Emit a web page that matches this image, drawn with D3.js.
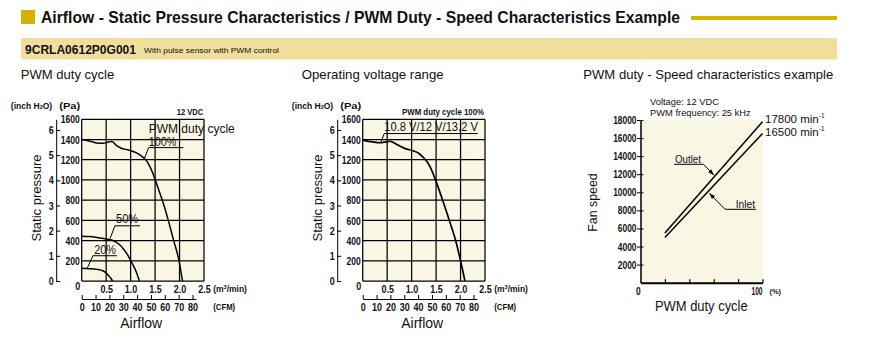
<!DOCTYPE html>
<html><head><meta charset="utf-8">
<script src="https://cdn.jsdelivr.net/npm/d3@7"></script>
<style>
body{margin:0;background:#fff;}
svg{display:block;}
</style></head><body>
<svg id="c" width="885" height="346"></svg>
<script>
// ---------- data ----------
const pressureTicks = [0,200,400,600,800,1000,1200,1400,1600];
const inchTicks = [0,1,2,3,4,5,6];
const flowTicks = [0,0.5,1.0,1.5,2.0,2.5];
const flowLabels = ["0","0.5","1.0","1.5","2.0","2.5"];
const cfmTicks = [0,10,20,30,40,50,60,70,80];
// PWM duty cycle curves [m3/min, Pa]
const pwm100 = [[0,1400],[0.15,1386],[0.3,1366],[0.43,1362],[0.55,1376],[0.62,1380],[0.7,1345],[0.8,1316],[0.95,1296],[1.1,1272],[1.25,1226],[1.35,1172],[1.45,1072],[1.55,936],[1.67,767],[1.77,600],[1.88,400],[1.99,200],[2.06,0]];
const pwm50 = [[0,444],[0.15,440],[0.31,431],[0.45,420],[0.61,405],[0.7,385],[0.78,356],[0.85,320],[0.92,273],[1.0,205],[1.05,158],[1.12,85],[1.18,0]];
const pwm20 = [[0,125],[0.15,122],[0.31,115],[0.44,99],[0.5,80],[0.54,59],[0.6,25],[0.63,0]];
// Operating voltage range curve (10.8 V / 12 V / 13.2 V overlap)
const voltCurve = [[0,1394],[0.2,1376],[0.35,1368],[0.48,1377],[0.56,1383],[0.63,1370],[0.7,1350],[0.87,1310],[1.04,1287],[1.15,1262],[1.24,1222],[1.31,1185],[1.37,1136],[1.49,998],[1.61,833],[1.77,600],[1.9,400],[2.0,200],[2.09,0]];
// Speed chart
const speedTicks = [2000,4000,6000,8000,10000,12000,14000,16000,18000];
const dutyTicks = [20,40,60,80,100];
const duty = [20,100];
const outletSpeed = [5500,17800];
const inletSpeed = [5000,16500];

// ---------- styles ----------
const NARROW = "'Liberation Sans Narrow','Arial Narrow','Liberation Sans',Arial,sans-serif";
const SANS = "'Liberation Sans',Arial,Helvetica,sans-serif";
const GOLD = "#d6b200";
const BAND = "#f0df9b";
const CREAM = "#faf6e4";

const svg = d3.select("#c");

function txt(x, y, s, o={}) {
  const t = svg.append("text")
    .attr("x", x).attr("y", y)
    .attr("dominant-baseline", "central")
    .attr("font-family", o.family || SANS)
    .attr("font-size", o.size || 12)
    .attr("font-weight", o.weight || "normal")
    .attr("fill", o.fill || "#111")
    .attr("text-anchor", o.anchor || "start")
    .text(s);
  if (o.len) t.attr("textLength", o.len).attr("lengthAdjust", "spacingAndGlyphs");
  if (o.rotate) t.attr("transform", `rotate(${o.rotate},${x},${y})`);
  return t;
}
function styleTicks(sel, size, digitW) {
  sel.selectAll("text")
    .attr("font-family", NARROW).attr("font-size", size).attr("font-weight", "bold").attr("fill", "#111")
    .each(function() {
      const s = this.textContent;
      const n = s.replace(/[^0-9]/g, "").length, dots = s.replace(/[0-9]/g, "").length;
      d3.select(this).attr("textLength", n*digitW + dots*digitW*0.5).attr("lengthAdjust", "spacingAndGlyphs");
    });
}

// ---------- header ----------
svg.append("rect").attr("x",21).attr("y",10).attr("width",14).attr("height",14).attr("fill",GOLD);
txt(41, 17, "Airflow - Static Pressure Characteristics / PWM Duty - Speed Characteristics Example",
  {family: NARROW, size: 17, weight: "bold", len: 639});
svg.append("rect").attr("x",691).attr("y",16).attr("width",146).attr("height",4).attr("fill",GOLD);
svg.append("rect").attr("x",21).attr("y",38).attr("width",816).attr("height",21.5).attr("fill",BAND);
txt(25, 50, "9CRLA0612P0G001", {family: NARROW, size: 12.5, weight: "bold", len: 111});
txt(144, 50.5, "With pulse sensor with PWM control", {family: NARROW, size: 7.5, len: 135});

// ---------- pressure charts ----------
const PW = 122.3, PTOP = 119.3, PBOT = 281;
const PA_PER_INCH = 249.09;

function pressureChart(left, title, titleLen) {
  const x = d3.scaleLinear().domain([0,2.5]).range([left, left+PW]);
  const y = d3.scaleLinear().domain([0,1600]).range([PBOT, PTOP]);
  const yi = d3.scaleLinear().domain([0,1600/PA_PER_INCH]).range([PBOT, PTOP]);
  const xc = d3.scaleLinear().domain([0,2.5*35.3147]).range([left, left+PW]);

  txt(left-61, 74, title, {size: 13, len: titleLen});

  const g = svg.append("g");
  g.append("rect").attr("x",left).attr("y",PTOP).attr("width",PW).attr("height",PBOT-PTOP).attr("fill",CREAM);
  g.selectAll(".hg").data(pressureTicks).join("line")
    .attr("x1",left).attr("x2",left+PW).attr("y1",d=>y(d)).attr("y2",d=>y(d))
    .attr("stroke","#000").attr("stroke-width",1.25);
  g.selectAll(".vg").data(flowTicks).join("line")
    .attr("x1",d=>x(d)).attr("x2",d=>x(d)).attr("y1",PTOP).attr("y2",PBOT)
    .attr("stroke","#000").attr("stroke-width",1.25);

  // Pa axis labels (the shared "0" is drawn by the flow axis)
  const pa = svg.append("g").attr("transform",`translate(${left},0)`)
    .call(d3.axisLeft(y).tickValues(pressureTicks.filter(d=>d>0)).tickFormat(d3.format("d")).tickSize(0).tickPadding(2));
  pa.select(".domain").remove();
  styleTicks(pa, 11.5, 4.75);

  // inch H2O axis
  const ia = svg.append("g").attr("transform",`translate(${left-25.5},0)`)
    .call(d3.axisLeft(yi).tickValues(inchTicks).tickFormat(d3.format("d")).tickSizeInner(-4).tickSizeOuter(0).tickPadding(2.5));
  ia.select(".domain").attr("stroke","#000").attr("stroke-width",1);
  ia.selectAll("line").attr("stroke","#000").attr("stroke-width",1);
  styleTicks(ia, 11.5, 5);

  // flow axis labels
  const fa = svg.append("g").attr("transform",`translate(0,${PBOT})`)
    .call(d3.axisBottom(x).tickValues(flowTicks).tickFormat((d,i)=>flowLabels[i]).tickSize(0).tickPadding(3.5));
  fa.select(".domain").remove();
  styleTicks(fa, 11.5, 5);
  fa.selectAll("text").filter(d=>d===0).attr("x",-4.5).attr("dy","0.45em");

  // CFM axis
  const ca = svg.append("g").attr("transform",`translate(0,299)`)
    .call(d3.axisBottom(d3.scaleLinear().domain([0,82.4]).range([left, xc(82.4)]))
      .tickValues(cfmTicks).tickFormat(d3.format("d")).tickSizeInner(-4).tickSizeOuter(0).tickPadding(4));
  ca.select(".domain").attr("stroke","#000").attr("stroke-width",1);
  ca.selectAll("line").attr("stroke","#000").attr("stroke-width",1);
  styleTicks(ca, 11.5, 5);

  // unit labels
  txt(left-1.5, 105.7, "(Pa)", {family: NARROW, size: 8.5, weight: "bold", anchor: "end", len: 21});
  const ih = txt(left-29.5, 105.7, "", {family: NARROW, size: 8.5, weight: "bold", anchor: "end"});
  ih.append("tspan").text("(inch H");
  ih.append("tspan").attr("font-size",5.5).attr("dy",1.5).text("2");
  ih.append("tspan").attr("dy",-1.5).text("O)");
  const mu = txt(left+131.5, 289.3, "", {family: NARROW, size: 8.5, weight: "bold"});
  mu.append("tspan").text("(m");
  mu.append("tspan").attr("font-size",5.5).attr("dy",-2.5).text("3");
  mu.append("tspan").attr("dy",2.5).text("/min)");
  txt(left+131.5, 307.3, "(CFM)", {family: NARROW, size: 8.5, weight: "bold", len: 22});

  txt(left+59.5, 323.3, "Airflow", {size: 14, anchor: "middle", len: 42});
  txt(left-45, 198, "Static pressure", {size: 13.5, anchor: "middle", rotate: -90, len: 87});

  const line = d3.line().x(d=>x(d[0])).y(d=>y(d[1])).curve(d3.curveMonotoneX);
  return {x, y, line};
}

function drawCurve(c, data, w) {
  svg.append("path").attr("d", c.line(data)).attr("fill","none").attr("stroke","#000").attr("stroke-width",w||1.5);
}
function leader(pts, sc) {
  svg.append("path").attr("d", d3.line()(pts.map(p=>[sc.x(p[0]), sc.y(p[1])])))
    .attr("fill","none").attr("stroke","#000").attr("stroke-width",1);
}

// chart 1
const c1 = pressureChart(81.7, "PWM duty cycle", 93.6);
drawCurve(c1, pwm100);
drawCurve(c1, pwm50);
drawCurve(c1, pwm20);
txt(c1.x(0)+95, 112.3, "12 VDC", {family: NARROW, size: 8.5, weight: "bold", len: 26.6});
txt(c1.x(1.37), c1.y(1505), "PWM duty cycle", {size: 12, len: 86});
txt(c1.x(1.37), c1.y(1378), "100%", {size: 12, len: 27.7});
leader([[1.28,1212],[1.37,1320],[2.08,1320]], c1);
txt(c1.x(0.70), c1.y(612), "50%", {size: 12.5, len: 22.3});
leader([[0.58,420],[0.68,546],[1.19,546]], c1);
txt(c1.x(0.257), c1.y(310), "20%", {size: 12.5, len: 21.7});
leader([[0.115,128],[0.23,250],[0.72,250]], c1);

// chart 2
const c2 = pressureChart(362.7, "Operating voltage range", 142);
drawCurve(c2, voltCurve, 1.7);
txt(c2.x(0)+39.3, 112.3, "PWM duty cycle 100%", {family: NARROW, size: 8.5, weight: "bold", len: 82});
txt(c2.x(0.44), c2.y(1526), "10.8 V/12 V/13.2 V", {size: 12.5, len: 93.7});
leader([[0.373,1376],[0.44,1459],[2.35,1459]], c2);

// ---------- speed chart ----------
const x3 = d3.scaleLinear().domain([0,100]).range([640.5,762.5]);
const y3 = d3.scaleLinear().domain([0,18000]).range([282.7,120]);

txt(583.3, 74, "PWM duty - Speed characteristics example", {size: 13, len: 250});
svg.append("rect").attr("x",x3(0)).attr("y",y3(18000)).attr("width",x3(100)-x3(0)).attr("height",y3(0)-y3(18000)).attr("fill",CREAM);

const ya3 = svg.append("g").attr("transform",`translate(${x3(0)},0)`)
  .call(d3.axisLeft(y3).tickValues(speedTicks).tickFormat(d3.format("d")).tickSizeInner(3.5).tickSizeOuter(0).tickPadding(0.5));
ya3.select(".domain").attr("stroke","#000").attr("stroke-width",1.5);
ya3.selectAll("line").attr("stroke","#000").attr("stroke-width",1);
styleTicks(ya3, 11, 4.67);
const ya3r = svg.append("g").attr("transform",`translate(${x3(0)},0)`)
  .call(d3.axisRight(y3).tickValues(speedTicks).tickSizeInner(3).tickSizeOuter(0).tickFormat(""));
ya3r.select(".domain").remove();
ya3r.selectAll("line").attr("stroke","#000").attr("stroke-width",1);

const xa3 = svg.append("g").attr("transform",`translate(0,${y3(0)})`)
  .call(d3.axisBottom(x3).tickValues(dutyTicks).tickSizeInner(-3.5).tickSizeOuter(0).tickFormat(""));
xa3.select(".domain").attr("stroke","#000").attr("stroke-width",2);
xa3.selectAll("line").attr("stroke","#000").attr("stroke-width",1.2);

txt(x3(0)-4.5, 291, "0", {family: NARROW, size: 11, weight: "bold", len: 4.7});
txt(x3(100)-11, 291, "100", {family: NARROW, size: 11, weight: "bold", len: 11});
txt(x3(100)+7, 291.5, "(%)", {family: NARROW, size: 7.5, weight: "bold", len: 11.5});
txt(701.3, 306, "PWM duty cycle", {size: 14, anchor: "middle", len: 92.7});
txt(592.7, 202.5, "Fan speed", {size: 13.5, anchor: "middle", rotate: -90, len: 58.4});

txt(650, 101.3, "Voltage: 12 VDC", {size: 9.5, len: 69});
txt(650, 112.7, "PWM frequency: 25 kHz", {size: 9.5, len: 100.7});

const sline = d3.line().x(d=>x3(d[0])).y(d=>y3(d[1]));
svg.append("path").attr("d", sline(duty.map((d,i)=>[d,outletSpeed[i]]))).attr("fill","none").attr("stroke","#000").attr("stroke-width",1.5);
svg.append("path").attr("d", sline(duty.map((d,i)=>[d,inletSpeed[i]]))).attr("fill","none").attr("stroke","#000").attr("stroke-width",1.5);

function minLabel(y, v) {
  const t = txt(x3(100)+2.5, y, "", {family: NARROW, size: 11.5});
  t.append("tspan").text(v + " min");
  t.append("tspan").attr("font-size",6.5).attr("dy",-3.5).text("-1");
}
minLabel(y3(outletSpeed[1])-3, outletSpeed[1]);
minLabel(y3(inletSpeed[1])-2, inletSpeed[1]);

svg.append("defs").append("marker").attr("id","arr").attr("viewBox","0 0 10 10")
  .attr("refX",10).attr("refY",5).attr("markerWidth",6).attr("markerHeight",6).attr("orient","auto")
  .append("path").attr("d","M0,1.5 L10,5 L0,8.5 Z").attr("fill","#000");

txt(675, 159, "Outlet", {family: NARROW, size: 10.5, len: 26});
svg.append("path").attr("d", d3.line()([[x3(27.5),y3(13099)],[x3(51.6),y3(13099)],[x3(60.2),y3(11900)]]))
  .attr("fill","none").attr("stroke","#000").attr("stroke-width",1).attr("marker-end","url(#arr)");
txt(735.7, 204, "Inlet", {family: NARROW, size: 10.5, len: 19.3});
svg.append("path").attr("d", d3.line()([[x3(94.7),y3(8120)],[x3(69.3),y3(8120)],[x3(56.4),y3(9890)]]))
  .attr("fill","none").attr("stroke","#000").attr("stroke-width",1).attr("marker-end","url(#arr)");
</script>
</body></html>
